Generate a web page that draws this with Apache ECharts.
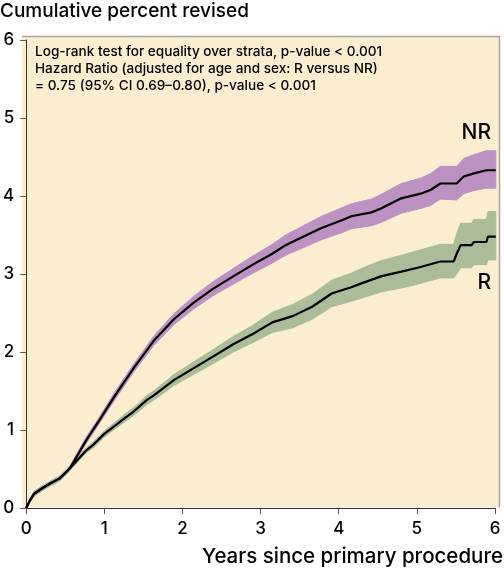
<!DOCTYPE html>
<html>
<head>
<meta charset="utf-8">
<script src="https://cdn.jsdelivr.net/npm/echarts@6/dist/echarts.min.js"></script>
<style>
html,body{margin:0;padding:0;background:#fff;}
#chart{width:504px;height:570px;}
</style>
</head>
<body>
<div id="chart"></div>
<script>
// ---- data ----
const xTicks = [0, 1, 2, 3, 4, 5, 6];
const yTicks = [0, 1, 2, 3, 4, 5, 6];

const nrTime  = [0.00,0.05,0.10,0.20,0.30,0.43,0.56,0.77,0.94,1.13,1.38,1.63,1.89,2.14,2.39,2.65,2.90,3.15,3.32,3.53,3.78,4.04,4.16,4.42,4.54,4.80,5.05,5.18,5.30,5.51,5.60,5.73,5.89,6.01];
const nrValue = [0.00,0.10,0.18,0.25,0.31,0.38,0.51,0.87,1.13,1.43,1.80,2.14,2.42,2.63,2.81,2.97,3.12,3.26,3.37,3.47,3.59,3.69,3.74,3.79,3.84,3.97,4.03,4.08,4.16,4.16,4.25,4.29,4.33,4.33];
const nrLower = [0.00,0.08,0.15,0.22,0.28,0.35,0.48,0.83,1.09,1.38,1.75,2.08,2.35,2.55,2.72,2.87,3.01,3.14,3.24,3.33,3.44,3.53,3.58,3.62,3.66,3.78,3.84,3.88,3.96,3.95,4.03,4.07,4.10,4.10];
const nrUpper = [0.00,0.12,0.21,0.28,0.34,0.41,0.54,0.91,1.17,1.48,1.85,2.20,2.49,2.71,2.90,3.07,3.23,3.38,3.50,3.61,3.74,3.85,3.90,3.96,4.02,4.16,4.23,4.29,4.38,4.38,4.48,4.53,4.58,4.58];

const rTime  = [0.00,0.05,0.10,0.20,0.30,0.43,0.56,0.77,0.87,1.00,1.13,1.27,1.38,1.55,1.63,1.89,2.14,2.39,2.65,2.90,3.15,3.41,3.66,3.91,4.16,4.29,4.54,4.80,5.05,5.30,5.47,5.51,5.56,5.70,5.73,5.89,5.91,6.01];
const rValue = [0.00,0.10,0.18,0.25,0.31,0.38,0.51,0.74,0.82,0.95,1.05,1.16,1.24,1.39,1.44,1.64,1.79,1.94,2.10,2.23,2.38,2.46,2.58,2.75,2.83,2.88,2.97,3.03,3.09,3.16,3.16,3.26,3.37,3.37,3.41,3.41,3.48,3.48];
const rLower = [0.00,0.08,0.15,0.22,0.28,0.35,0.48,0.71,0.78,0.91,1.01,1.11,1.19,1.33,1.38,1.57,1.71,1.85,2.00,2.12,2.25,2.31,2.42,2.58,2.65,2.69,2.77,2.82,2.88,2.95,2.95,3.00,3.08,3.08,3.12,3.12,3.18,3.18];
const rUpper = [0.00,0.12,0.21,0.28,0.34,0.41,0.54,0.77,0.86,0.99,1.09,1.21,1.29,1.45,1.50,1.71,1.87,2.03,2.20,2.34,2.51,2.61,2.74,2.92,3.01,3.07,3.17,3.24,3.31,3.38,3.38,3.52,3.65,3.65,3.70,3.70,3.80,3.80];

const titleText = 'Cumulative percent revised';
const xAxisTitle = 'Years since primary procedure';
const noteLines = [
  'Log-rank test for equality over strata, p-value < 0.001',
  'Hazard Ratio (adjusted for age and sex: R versus NR)',
  '= 0.75 (95% CI 0.69\u20130.80), p-value < 0.001'
];
const groupNames = ['NR', 'R'];

// ---- chart ----
const FONT = 'Inter, "Liberation Sans", Arial, sans-serif';
const chart = echarts.init(document.getElementById('chart'), null, {renderer: 'canvas'});

function pairs(t, v) { return t.map((x, i) => [x, v[i]]); }

function bandSeries(t, lo, hi, color) {
  return {
    type: 'custom',
    z: 1,
    silent: true,
    data: [[t[0], lo[0]]],
    renderItem: function (params, api) {
      const pts = [];
      for (let i = 0; i < t.length; i++) pts.push(api.coord([t[i], hi[i]]));
      for (let i = t.length - 1; i >= 0; i--) pts.push(api.coord([t[i], lo[i]]));
      return {type: 'polygon', shape: {points: pts}, style: {fill: color, stroke: color, lineWidth: 1}};
    }
  };
}

function lineSeries(t, v) {
  return {
    type: 'line',
    z: 3,
    data: pairs(t, v),
    showSymbol: false,
    symbol: 'none',
    lineStyle: {color: '#000', width: 2.2},
    silent: true
  };
}

const option = {
  animation: false,
  backgroundColor: '#ffffff',
  grid: {left: 21, right: 9, top: 40, bottom: 62, containLabel: false},
  xAxis: {
    type: 'value', min: 0, max: 6, interval: 1,
    axisLine: {show: true, lineStyle: {color: '#333', width: 1}},
    axisTick: {show: true, length: 6, lineStyle: {color: '#555'}},
    axisLabel: {color: '#000', fontSize: 17, fontFamily: FONT, fontWeight: 500, margin: 12,
      formatter: v => xTicks.includes(v) ? String(v) : ''},
    splitLine: {show: false}
  },
  yAxis: {
    type: 'value', min: 0, max: 6, interval: 1,
    axisLine: {show: true, lineStyle: {color: '#333', width: 1}},
    axisTick: {show: true, length: 6, lineStyle: {color: '#555'}},
    axisLabel: {color: '#000', fontSize: 17, fontFamily: FONT, fontWeight: 500, margin: 12,
      formatter: v => yTicks.includes(v) ? String(v) : ''},
    splitLine: {show: false}
  },
  graphic: [
    {type: 'rect', z: -10, silent: true, shape: {x: 22, y: 36, width: 477, height: 471.5}, style: {fill: '#FAEDD0'}},
    {type: 'polyline', z: -9, silent: true, shape: {points: [[22, 36.5], [499.5, 36.5], [499.5, 507.5]]}, style: {stroke: '#ABA69C', lineWidth: 1.5, fill: null}},
    {type: 'text', silent: true, x: 0, y: 11, style: {text: titleText, font: '500 19px ' + FONT, fill: '#000', textVerticalAlign: 'middle', textAlign: 'left'}},
    {type: 'text', silent: true, x: 503, y: 557, style: {text: xAxisTitle, font: '500 20.5px ' + FONT, fill: '#000', textVerticalAlign: 'middle', textAlign: 'right'}},
    {type: 'text', silent: true, x: 35, y: 52, style: {text: noteLines[0], font: '500 13.6px ' + FONT, fill: '#000', textVerticalAlign: 'middle'}},
    {type: 'text', silent: true, x: 35, y: 69, style: {text: noteLines[1], font: '500 13.6px ' + FONT, fill: '#000', textVerticalAlign: 'middle'}},
    {type: 'text', silent: true, x: 35, y: 86, style: {text: noteLines[2], font: '500 13.6px ' + FONT, fill: '#000', textVerticalAlign: 'middle'}},
    {type: 'text', silent: true, x: 491, y: 133, style: {text: groupNames[0], font: '500 21px ' + FONT, fill: '#000', textVerticalAlign: 'middle', textAlign: 'right'}},
    {type: 'text', silent: true, x: 491, y: 283, style: {text: groupNames[1], font: '500 21px ' + FONT, fill: '#000', textVerticalAlign: 'middle', textAlign: 'right'}}
  ],
  series: [
    bandSeries(nrTime, nrLower, nrUpper, '#BB92C1'),
    bandSeries(rTime, rLower, rUpper, '#AABC98'),
    lineSeries(rTime, rValue),
    lineSeries(nrTime, nrValue)
  ]
};
chart.setOption(option);
</script>
</body>
</html>
